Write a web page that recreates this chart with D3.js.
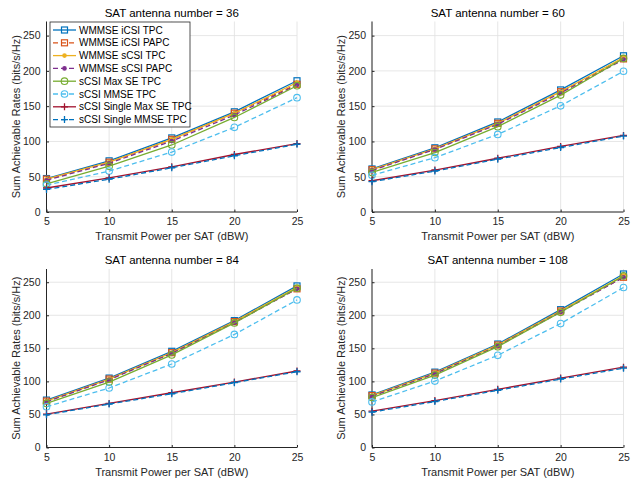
<!DOCTYPE html>
<html>
<head>
<meta charset="utf-8">
<script src="https://cdn.jsdelivr.net/npm/d3@7"></script>
<style>
  body { margin: 0; background: #fff; }
  text { font-family: "Liberation Sans", Arial, sans-serif; }
</style>
</head>
<body>
<div id="chart-area"></div>
<script>
// x values (dBW) and tick labels
var powers = [5, 10, 15, 20, 25];
var yTicks = [0, 50, 100, 150, 200, 250];

var seriesNames = ["WMMSE iCSI TPC", "WMMSE iCSI PAPC", "WMMSE sCSI TPC", "WMMSE sCSI PAPC",
  "sCSI Max SE TPC", "sCSI MMSE TPC", "sCSI Single Max SE TPC", "sCSI Single MMSE TPC"];

var antennaNumbers = [36, 60, 84, 108];

// one row per series, same order as seriesNames
var rates36 = [
  [47.4, 72.5, 105, 142, 186],
  [46.5, 70.6, 103, 140, 181],
  [46.5, 70.6, 103, 140, 183.5],
  [45, 69, 100.5, 137.5, 180],
  [40, 65, 95, 134, 179],
  [38, 58, 85, 120, 162],
  [34, 48.4, 64, 81.5, 97],
  [32, 46.5, 62.6, 79.7, 96]
];
var rates60 = [
  [61, 91, 127.6, 173, 221.4],
  [60, 89.5, 125.7, 170.5, 217],
  [60, 89.5, 125.7, 170.5, 219],
  [59, 88.6, 124.3, 168.6, 216],
  [56, 84.3, 121, 165.7, 217.6],
  [52, 77, 110, 150.5, 199.5],
  [44.3, 59.5, 76.2, 92.9, 108.6],
  [43, 58, 74.8, 91.4, 107.6]
];
var rates84 = [
  [71.7, 105, 145.5, 192, 244.4],
  [70.2, 103.5, 143.4, 190.4, 240],
  [70.2, 103.5, 143.4, 190.4, 242.4],
  [69.2, 102.5, 142.4, 188.9, 240],
  [66.7, 99, 140, 188.4, 241],
  [61.6, 90, 126.3, 171, 223.2],
  [50.5, 66.7, 82.8, 99, 115.7],
  [49.5, 65.7, 81.3, 98, 114.6]
];
var rates108 = [
  [79.5, 114, 156.5, 208.5, 262.5],
  [78.5, 112.5, 155, 206.5, 257.5],
  [78.5, 112.5, 155, 206.5, 260],
  [77.5, 111.5, 153.5, 205, 257.5],
  [75.5, 109.5, 152.5, 204.5, 259.5],
  [69, 100.5, 139.5, 187.5, 242],
  [55, 71, 88, 105, 121.5],
  [53.5, 69.5, 86.5, 103.5, 120]
];
var allRates = [rates36, rates60, rates84, rates108];

var colors = ["#0072BD", "#D95319", "#EDB120", "#7E2F8E", "#77AC30", "#4DBEEE", "#A2142F", "#0072BD"];
var dashed = [false, true, false, true, false, true, false, true];
var markers = ["square", "square", "dot", "dot", "circle", "circle", "plus", "plus"];

var W = 639, H = 481;
var svg = d3.select("#chart-area")
  .append("svg")
  .attr("width", W)
  .attr("height", H);

// plot boxes [left, top, right, bottom]
var boxes = [
  [46.5, 21.5, 297, 212],
  [372, 21.5, 623.5, 212],
  [46.5, 269, 297, 447.5],
  [372, 269, 623.5, 447.5]
];

function drawMarker(g, type, cx, cy, color) {
  if (type == "square") {
    g.append("rect").attr("x", cx - 3).attr("y", cy - 3).attr("width", 6).attr("height", 6)
      .attr("fill", "none").attr("stroke", color).attr("stroke-width", 1.2);
  } else if (type == "dot") {
    g.append("circle").attr("cx", cx).attr("cy", cy).attr("r", 2.3).attr("fill", color);
  } else if (type == "circle") {
    g.append("circle").attr("cx", cx).attr("cy", cy).attr("r", 3.3)
      .attr("fill", "none").attr("stroke", color).attr("stroke-width", 1.1);
  } else {
    g.append("path").attr("d", `M${cx - 3.5},${cy}H${cx + 3.5}M${cx},${cy - 3.5}V${cy + 3.5}`)
      .attr("stroke", color).attr("stroke-width", 1.3);
  }
}

boxes.forEach((b, p) => {
  var x = d3.scaleLinear().domain([5, 25]).range([b[0], b[2]]);
  var y = d3.scaleLinear().domain([0, 270]).range([b[3], b[1]]);
  var g = svg.append("g");

  // grid
  g.selectAll(".gx").data(powers).enter().append("line")
    .attr("x1", d => x(d)).attr("x2", d => x(d)).attr("y1", b[1]).attr("y2", b[3])
    .attr("stroke", "#dfdfdf").attr("stroke-width", 0.8);
  g.selectAll(".gy").data(yTicks).enter().append("line")
    .attr("x1", b[0]).attr("x2", b[2]).attr("y1", d => y(d)).attr("y2", d => y(d))
    .attr("stroke", "#dfdfdf").attr("stroke-width", 0.8);

  // axes
  var xAxis = g.append("g").attr("transform", `translate(0,${b[3]})`)
    .call(d3.axisBottom(x).tickValues(powers).tickSize(-2.5).tickPadding(6));
  var yAxis = g.append("g").attr("transform", `translate(${b[0]},0)`)
    .call(d3.axisLeft(y).tickValues(yTicks).tickSize(-2.5).tickPadding(6));
  [xAxis, yAxis].forEach(a => {
    a.select(".domain").attr("stroke", "#262626").attr("stroke-width", 1);
    a.selectAll(".tick line").attr("stroke", "#262626");
    a.selectAll(".tick text").attr("fill", "#262626").attr("font-size", 10.5)
      .attr("font-family", "Liberation Sans, Arial, sans-serif");
  });
  xAxis.select(".domain").attr("d", `M${b[0]},0H${b[2]}`);
  yAxis.select(".domain").attr("d", `M0,${b[3]}V${b[1]}`);

  // lines + markers
  var line = d3.line().x((d, i) => x(powers[i])).y(d => y(d));
  allRates[p].forEach((vals, s) => {
    g.append("path").attr("d", line(vals)).attr("fill", "none")
      .attr("stroke", colors[s]).attr("stroke-width", 1.3)
      .attr("stroke-dasharray", dashed[s] ? "5,3" : null);
    vals.forEach((v, i) => drawMarker(g, markers[s], x(powers[i]), y(v), colors[s]));
  });

  // labels
  var cx = (b[0] + b[2]) / 2;
  g.append("text").attr("x", cx).attr("y", b[1] - 5).attr("text-anchor", "middle")
    .attr("font-size", 11.5).attr("fill", "#000").text("SAT antenna number = " + antennaNumbers[p]);
  g.append("text").attr("x", cx).attr("y", b[3] + 28).attr("text-anchor", "middle")
    .attr("font-size", 11).attr("fill", "#262626").text("Transmit Power per SAT (dBW)");
  g.append("text").attr("transform", `translate(${b[0] - 27},${(b[1] + b[3]) / 2}) rotate(-90)`)
    .attr("text-anchor", "middle").attr("font-size", 11).attr("fill", "#262626")
    .text("Sum Achievable Rates (bits/s/Hz)");
});

// legend, in first panel
var lg = svg.append("g").attr("transform", "translate(50,22)");
lg.append("rect").attr("width", 140).attr("height", 105)
  .attr("fill", "#fff").attr("stroke", "#262626").attr("stroke-width", 0.8);
seriesNames.forEach((name, s) => {
  var yy = 8 + s * 12.8;
  lg.append("line").attr("x1", 3).attr("x2", 26).attr("y1", yy).attr("y2", yy)
    .attr("stroke", colors[s]).attr("stroke-width", 1.3)
    .attr("stroke-dasharray", dashed[s] ? "5,3" : null);
  drawMarker(lg, markers[s], 14.5, yy, colors[s]);
  lg.append("text").attr("x", 29).attr("y", yy + 3.5).attr("font-size", 10)
    .attr("fill", "#000").text(name);
});
</script>
</body>
</html>
